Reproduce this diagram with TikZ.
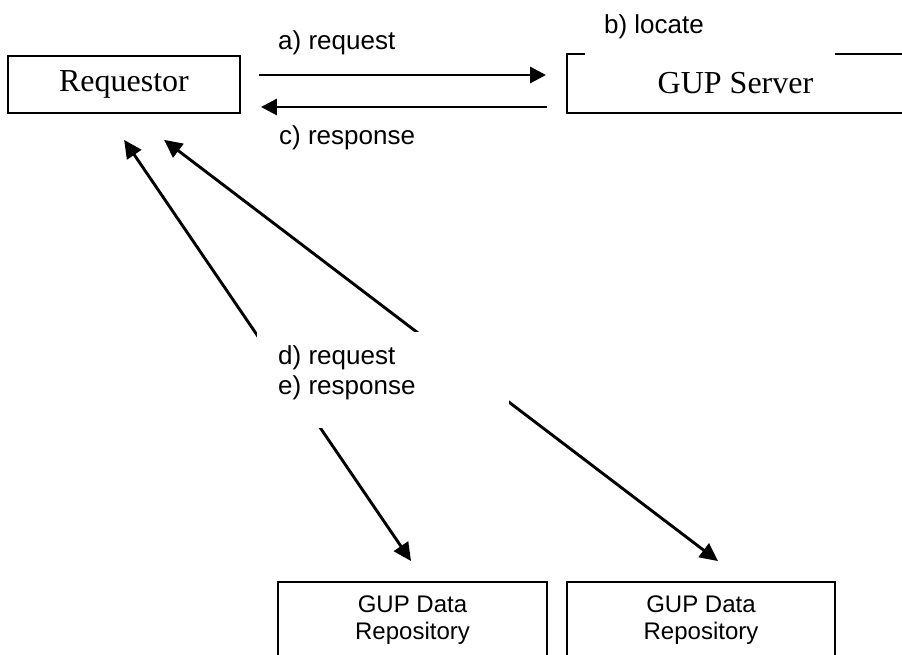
\documentclass[tikz,border=0pt]{standalone}
\usepackage{fontspec}
\setmainfont{Liberation Sans}
\newfontfamily\serifface{Liberation Serif}
\usetikzlibrary{arrows.meta}
\tikzset{
  box/.style={draw=black, line width=1.9pt, fill=white, inner sep=0pt},
  serifbig/.style={font=\serifface\fontsize{32}{36}\selectfont},
  lab/.style={font=\fontsize{26}{30}\selectfont, inner sep=0pt, align=left},
  repotext/.style={font=\fontsize{24}{27}\selectfont, inner sep=0pt, align=center},
  arr/.style={line width=2.9pt, -{Triangle[length=16pt,width=16pt]}},
  darr/.style={line width=2.9pt, {Triangle[length=18pt,width=17pt]}-{Triangle[length=18pt,width=17pt]}},
  mask/.style={fill=white, draw=none, inner sep=0pt}
}
\begin{document}
\begin{tikzpicture}[x=1pt,y=-1pt]
\useasboundingbox (0,0) rectangle (902,655);
\clip (0,0) rectangle (902,655);
\fill[white] (0,0) rectangle (902,655);

% boxes
\node[box, serifbig, minimum width=232pt, minimum height=57pt] (req) at (124,84.5) {Requestor};
\node[box, serifbig, minimum width=337pt, minimum height=59pt] (srv) at (735.5,83.5) {GUP Server};
\node[box, minimum width=269pt, minimum height=90pt] (repo1) at (412.5,627) {};
\node[box, minimum width=268pt, minimum height=90pt] (repo2) at (701,627) {};
\node[repotext] (repo1t) at (412.5,620.5) {GUP Data\\Repository};
\node[repotext] (repo2t) at (701,620.5) {GUP Data\\Repository};

% horizontal arrows
\coordinate (ya) at (0,75);
\coordinate (yc) at (0,107);
\draw[arr, shorten <=18pt, shorten >=20pt] (req.east |- ya) -- (srv.west |- ya);
\draw[arr, shorten <=19pt, shorten >=20pt] (srv.west |- yc) -- (req.east |- yc);

% diagonal arrows
\draw[darr, shorten <=31.4pt, shorten >=24.2pt] ([xshift=99.4pt]req.south west) -- ([xshift=147.6pt]repo1.north west);
\draw[darr, shorten <=42.8pt, shorten >=33pt] ([xshift=122.95pt]req.south west) -- ([xshift=178.2pt]repo2.north west);

% masks behind labels
\node[mask, minimum width=252pt, minimum height=96pt] (mdl) at (383,380) {};
\node[mask, minimum width=250pt, minimum height=56pt] (mbl) at (710,28) {};

% labels
\node[lab, anchor=west] (la) at (278,43) {a) request};
\node[lab] (lb) at (654,27) {b) locate};
\node[lab, anchor=west] (lc) at (279,138) {c) response};
\node[lab, anchor=west] (lde) at (278,373) {d) request\\e) response};
\end{tikzpicture}
\end{document}
